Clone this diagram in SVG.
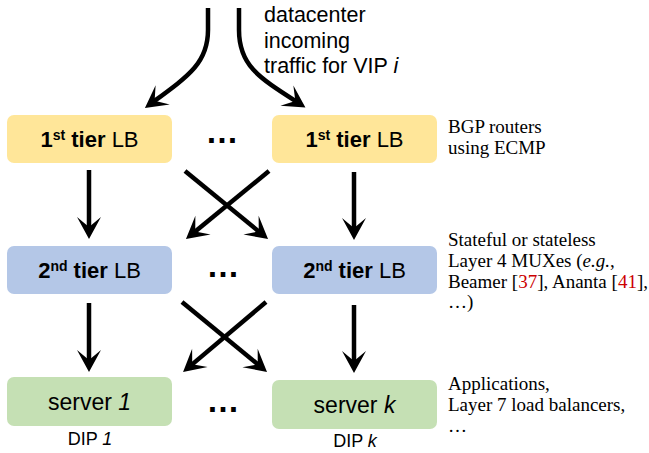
<svg xmlns="http://www.w3.org/2000/svg" width="649" height="453" viewBox="0 0 649 453">
<style>
.t1{fill:#FFE699}
.t2{fill:#B4C7E7}
.t3{fill:#C5E0B4}
.lbl{font-family:"Liberation Sans",Arial,sans-serif;font-size:22px;fill:#000;text-anchor:middle}
.srv{font-family:"Liberation Sans",Arial,sans-serif;font-size:23px;fill:#000;text-anchor:middle}
.dip{font-family:"Liberation Sans",Arial,sans-serif;font-size:18px;fill:#000;text-anchor:middle}
.top{font-family:"Liberation Sans",Arial,sans-serif;font-size:21.5px;fill:#000}
.note{font-family:"Liberation Serif","Times New Roman",serif;font-size:19px;fill:#000}
.dots{font-family:"Liberation Sans",Arial,sans-serif;font-size:33px;font-weight:bold;fill:#000;text-anchor:middle}
.b{font-weight:bold}
.sup{font-weight:bold;font-size:14px}
.red{fill:#CC0000}
.c{fill:none;stroke:#000;stroke-width:4.5;marker-end:url(#ah)}
</style>
<defs>
<marker id="ah" markerUnits="userSpaceOnUse" viewBox="-15 -15 30 30" markerWidth="30" markerHeight="30" refX="0" refY="0" orient="auto" overflow="visible">
<path d="M10,0 L-12,-12 L-2,0 L-12,12 Z" fill="#000"/>
</marker>
</defs>

<g id="connectors">
<path class="c" d="M208,8 L208,30 C208,62 190,75 153,102"/>
<path class="c" d="M239,8 L239,30 C239,65 258,77 297,102"/>
<path class="c" d="M89,170 L89,229"/>
<path class="c" d="M354,172 L354,230"/>
<path class="c" d="M185,171 L260.3,232.7"/>
<path class="c" d="M269,171 L193.7,232.7"/>
<path class="c" d="M89,303 L89,362"/>
<path class="c" d="M354,305 L354,363"/>
<path class="c" d="M182,302 L259.3,365.6"/>
<path class="c" d="M266,302 L190.7,365.6"/>
</g>

<g id="incoming-label">
<text class="top" x="264" y="22">datacenter</text>
<text class="top" x="264" y="47.5">incoming</text>
<text class="top" x="264" y="73">traffic for VIP <tspan font-style="italic">i</tspan></text>
</g>

<g id="lb1-left">
<rect class="t1" x="7" y="115" width="165" height="48" rx="7"/>
<text class="lbl" x="89.5" y="147"><tspan class="b">1</tspan><tspan class="sup" dy="-7">st</tspan><tspan class="b" dy="7"> tier</tspan> LB</text>
</g>
<g id="dots1"><text class="dots" x="222" y="143">…</text></g>
<g id="lb1-right">
<rect class="t1" x="272" y="115" width="165" height="48" rx="7"/>
<text class="lbl" x="354.5" y="147"><tspan class="b">1</tspan><tspan class="sup" dy="-7">st</tspan><tspan class="b" dy="7"> tier</tspan> LB</text>
</g>

<g id="lb2-left">
<rect class="t2" x="7" y="246" width="165" height="48" rx="7"/>
<text class="lbl" x="89.5" y="278"><tspan class="b">2</tspan><tspan class="sup" dy="-7">nd</tspan><tspan class="b" dy="7"> tier</tspan> LB</text>
</g>
<g id="dots2"><text class="dots" x="223" y="277">…</text></g>
<g id="lb2-right">
<rect class="t2" x="272" y="246" width="165" height="48" rx="7"/>
<text class="lbl" x="354.5" y="278"><tspan class="b">2</tspan><tspan class="sup" dy="-7">nd</tspan><tspan class="b" dy="7"> tier</tspan> LB</text>
</g>

<g id="server-1">
<rect class="t3" x="7" y="377" width="165" height="49" rx="7"/>
<text class="srv" x="89.5" y="410">server <tspan font-style="italic">1</tspan></text>
<text class="dip" x="90" y="445">DIP <tspan font-style="italic">1</tspan></text>
</g>
<g id="dots3"><text class="dots" x="223" y="412">…</text></g>
<g id="server-k">
<rect class="t3" x="272" y="380" width="165" height="49" rx="7"/>
<text class="srv" x="354.5" y="413">server <tspan font-style="italic">k</tspan></text>
<text class="dip" x="355" y="447">DIP <tspan font-style="italic">k</tspan></text>
</g>

<g id="note-tier1">
<text class="note" x="448" y="133">BGP routers</text>
<text class="note" x="448" y="154">using ECMP</text>
</g>
<g id="note-tier2">
<text class="note" x="448" y="246">Stateful or stateless</text>
<text class="note" x="448" y="267">Layer 4 MUXes (<tspan font-style="italic">e.g.</tspan>,</text>
<text class="note" x="448" y="287.5">Beamer [<tspan class="red">37</tspan>], Ananta [<tspan class="red">41</tspan>],</text>
<text class="note" x="448" y="308">…)</text>
</g>
<g id="note-servers">
<text class="note" x="448" y="390">Applications,</text>
<text class="note" x="448" y="410.5">Layer 7 load balancers,</text>
<text class="note" x="448" y="432">…</text>
</g>
</svg>
